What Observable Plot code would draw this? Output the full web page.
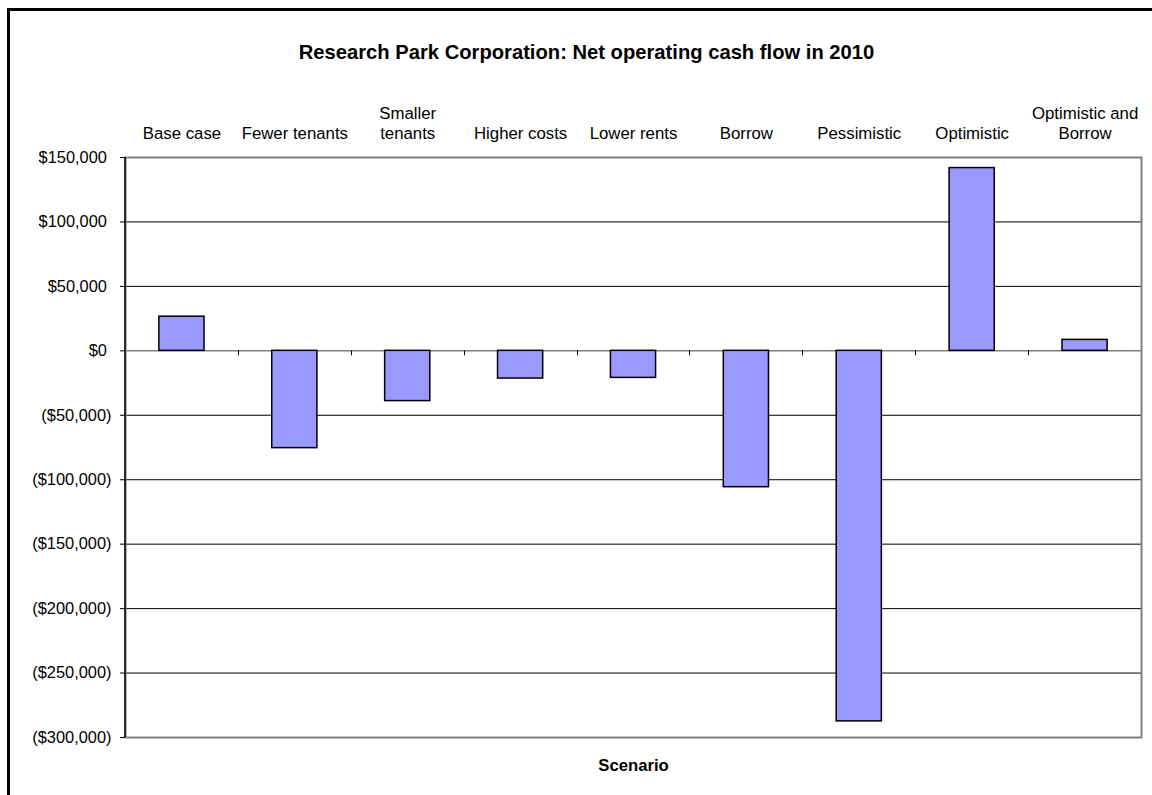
<!DOCTYPE html>
<html><head><meta charset="utf-8">
<script src="https://cdn.jsdelivr.net/npm/d3@7"></script>
<script src="https://cdn.jsdelivr.net/npm/@observablehq/plot@0.6"></script>
<style>
html,body{margin:0;padding:0;background:#fff;overflow:hidden;width:1152px;height:795px;}
#border{position:absolute;left:7px;top:8px;width:1200px;height:900px;border-left:3px solid #000;border-top:3px solid #000;box-sizing:border-box;pointer-events:none;}
#title{position:absolute;left:0;top:42px;width:1173px;text-align:center;font:bold 20.2px/20px "Liberation Sans",Arial,sans-serif;color:#000;white-space:nowrap;}
#chart{position:absolute;left:0;top:0;}
</style></head><body>
<div id="chart"></div>
<div id="title">Research Park Corporation: Net operating cash flow in 2010</div>
<div id="border"></div>
<script>
const scenarios = ["Base case", "Fewer tenants", "Smaller\ntenants", "Higher costs", "Lower rents", "Borrow", "Pessimistic", "Optimistic", "Optimistic and\nBorrow"];
const cashFlow = [26500, -75500, -39000, -21500, -21000, -105800, -287500, 141800, 8500];
const yTicks = [150000, 100000, 50000, 0, -50000, -100000, -150000, -200000, -250000, -300000];

const data = scenarios.map((s, i) => ({scenario: s, value: cashFlow[i]}));
const num = d3.format(",");
const fmt = v => v === 0 ? "$0\u00a0" : v > 0 ? "$" + num(v) + "\u00a0" : "($" + num(-v) + ")";

function boundaryTicks(index, scales, values, dimensions) {
  const x = scales.x, y = scales.y;
  const bw = typeof x.bandwidth === "function" ? x.bandwidth() : x.bandwidth;
  const y0 = y(0);
  const g = d3.create("svg:g").attr("stroke", "#000").attr("fill", "none");
  for (let i = 1; i < scenarios.length; i++) {
    const xb = Math.round((x(scenarios[i - 1]) + bw + x(scenarios[i])) / 2) + 0.5;
    g.append("line").attr("x1", xb).attr("x2", xb).attr("y1", y0).attr("y2", y0 + 5);
  }
  const xl = dimensions.marginLeft;
  g.append("line").attr("x1", xl).attr("x2", xl)
    .attr("y1", dimensions.marginTop).attr("y2", dimensions.height - dimensions.marginBottom)
    .attr("stroke-width", 1.5);
  return g.node();
}

const chart = Plot.plot({
  width: 1152,
  height: 795,
  marginTop: 157,
  marginRight: 11,
  marginBottom: 58,
  marginLeft: 125,
  style: {background: "transparent", fontSize: "16px", fontFamily: '"Liberation Sans", Arial, sans-serif', color: "#000"},
  x: {domain: scenarios, paddingInner: 0.6, paddingOuter: 0.3, round: false, label: null},
  y: {domain: [-300000, 150000], label: null},
  marks: [
    Plot.ruleY(yTicks.filter(v => v !== 0 && v !== yTicks[0] && v !== yTicks[yTicks.length - 1]), {stroke: "#000", strokeWidth: 1}),
    Plot.ruleY([0], {stroke: "#808080", strokeWidth: 1.5}),
    Plot.frame({stroke: "#808080", strokeWidth: 2}),
    boundaryTicks,
    Plot.barY(data, {x: "scenario", y: "value", fill: "#9999FF", stroke: "#000", strokeWidth: 1.5}),
    Plot.axisY({ticks: yTicks, tickSize: 5, tickPadding: 9, tickFormat: fmt, label: null, fontSize: 16.4}),
    Plot.axisX({anchor: "top", tickSize: 0, tickPadding: 19, label: null, lineHeight: 1.15, fontSize: 16.8}),
    Plot.text(["Scenario"], {frameAnchor: "bottom", lineAnchor: "bottom", dy: 33, fontWeight: "bold", fontSize: 16.7})
  ]
});
document.getElementById("chart").appendChild(chart);
</script>
</body></html>
